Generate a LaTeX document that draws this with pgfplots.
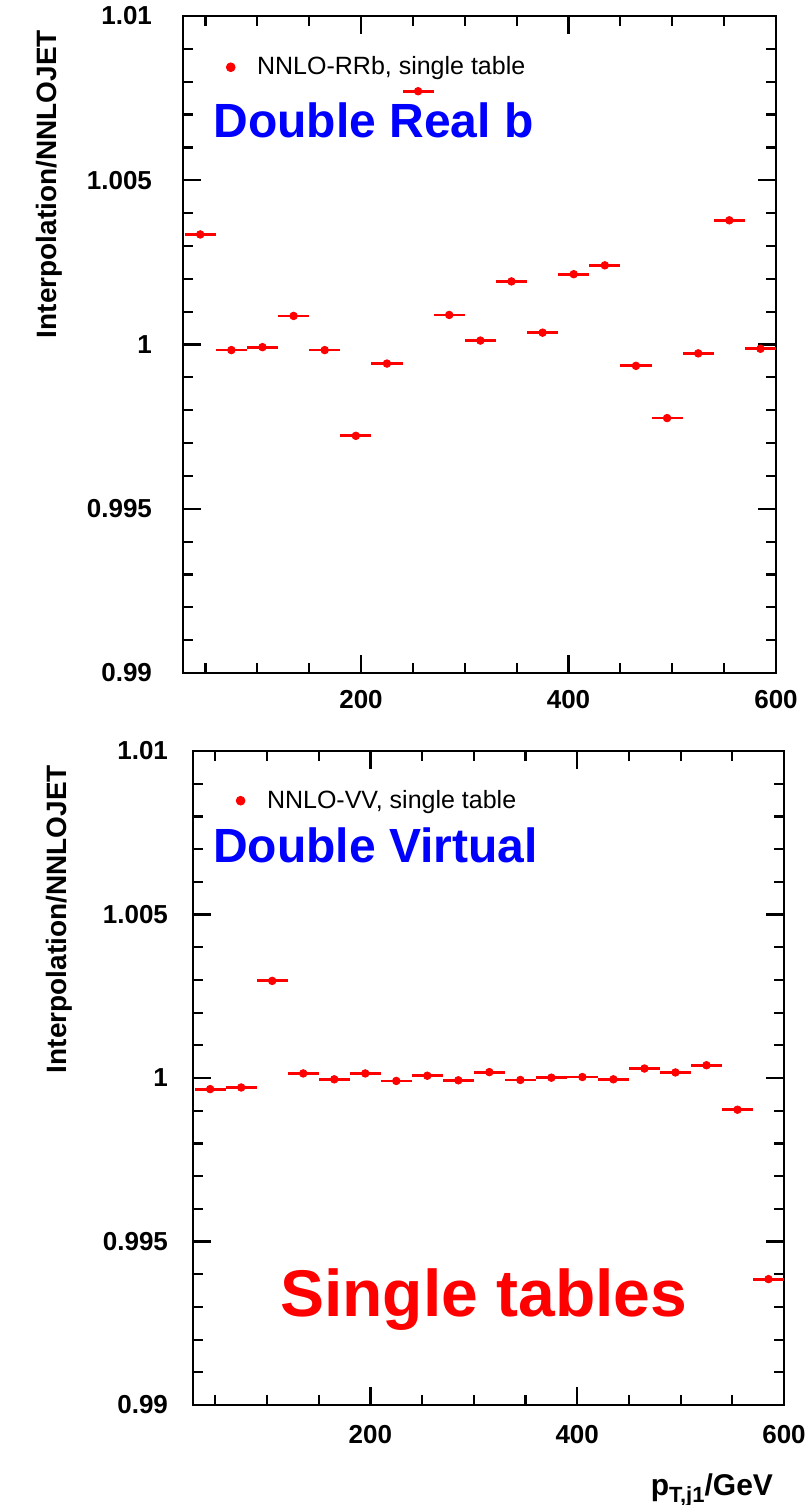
\documentclass[border=0pt]{standalone}
\usepackage{fontspec}
\setmainfont{Liberation Sans}
\usepackage{pgfplots}
\usepackage{pgfplotstable}
\pgfplotsset{compat=1.18}

\pgfplotstableread{
x y e
45 1.00335 15
75 0.99983 15
105 0.99992 15
135 1.00087 15
165 0.99983 15
195 0.99722 15
225 0.99942 15
255 1.00771 15
285 1.00090 15
315 1.00012 15
345 1.00192 15
375 1.00036 15
405 1.00214 15
435 1.00241 15
465 0.99935 15
495 0.99776 15
525 0.99973 15
555 1.00378 15
585 0.99987 15
}\toptab

\pgfplotstableread{
x y e
45 0.99966 15
75 0.99971 15
105 1.00297 15
135 1.00014 15
165 0.99996 15
195 1.00014 15
225 0.99991 15
255 1.00007 15
285 0.99993 15
315 1.00018 15
345 0.99994 15
375 1.00001 15
405 1.00003 15
435 0.99996 15
465 1.00029 15
495 1.00017 15
525 1.00039 15
555 0.99903 15
585 0.99385 15
}\bottab

\pgfplotsset{
  myaxis/.style={
    scale only axis,
    xmin=28.4, xmax=600, ymin=0.99, ymax=1.01,
    xtick={200,400,600}, xticklabels={200,400,600},
    minor xtick={50,100,150,250,300,350,450,500,550},
    ytick={0.99,0.995,1,1.005,1.01},
    yticklabels={0.99,0.995,1,1.005,1.01},
    minor y tick num=4,
    scaled ticks=false,
    tick align=inside,
    major tick length=9pt, minor tick length=5pt,
    every tick/.append style={black, line width=1.1pt},
    axis line style={line width=1.3pt},
    tick label style={font=\fontsize{13}{15}\selectfont\bfseries},
    /pgf/number format/assume math mode=true,
    xticklabel style={yshift=-5pt},
    ylabel={Interpolation/NNLOJET},
    ylabel style={at={([xshift=-67pt,yshift=-3.5pt]rel axis cs:0,1)}, anchor=east, font=\fontsize{14}{16}\selectfont\bfseries},
    legend image code/.code={\fill[red] (0pt,0pt) circle (2.2pt); \path (-2.2pt,0pt) (11pt,0pt);},
    legend style={draw=none, fill=none, font=\fontsize{12.5}{14}\selectfont, inner sep=0pt, outer sep=0pt, anchor=west},
  },
  mydata/.style={red, only marks, mark=*, mark size=1.9pt,
    error bars/.cd, x dir=both, x explicit, error mark=none,
    error bar style={line width=1.4pt, red}},
}

\begin{document}
\begin{tikzpicture}
\useasboundingbox (-91.5pt,-416pt) rectangle (313.5pt,336.5pt);

\begin{axis}[myaxis, at={(0pt,0pt)}, width=296.5pt, height=328.5pt,
  yticklabel style={xshift=-12pt},
  legend style={at={(axis cs:69.8,1.00844)}}]
\addplot[mydata] table[x=x, y=y, x error=e] {\toptab};
\addlegendentry{NNLO-RRb, single table}
\node[anchor=base west, text=blue, font=\fontsize{24}{28}\selectfont\bfseries, inner sep=0pt] at (axis cs:57.3,1.00631) {Double Real b};
\end{axis}

\begin{axis}[myaxis, at={(5pt,-366pt)}, width=295.5pt, height=327pt,
  yticklabel style={xshift=-9pt},
  xticklabel style={yshift=-1.5pt},
  xlabel={p\raisebox{-0.45ex}{\fontsize{11}{12}\selectfont T,j1}/GeV},
  xlabel style={at={([xshift=-2pt,yshift=-31pt]rel axis cs:1,0)}, anchor=north east, font=\fontsize{15}{17}\selectfont\bfseries},
  legend style={at={(axis cs:69.8,1.00848)}}]
\addplot[mydata] table[x=x, y=y, x error=e] {\bottab};
\addlegendentry{NNLO-VV, single table}
\node[anchor=base west, text=blue, font=\fontsize{24}{28}\selectfont\bfseries, inner sep=0pt] at (axis cs:47.4,1.0066) {Double Virtual};
\node[anchor=base west, text=red, font=\fontsize{33}{38}\selectfont\bfseries, inner sep=0pt] at (axis cs:112.2,0.9927) {Single tables};
\end{axis}
\end{tikzpicture}
\end{document}
